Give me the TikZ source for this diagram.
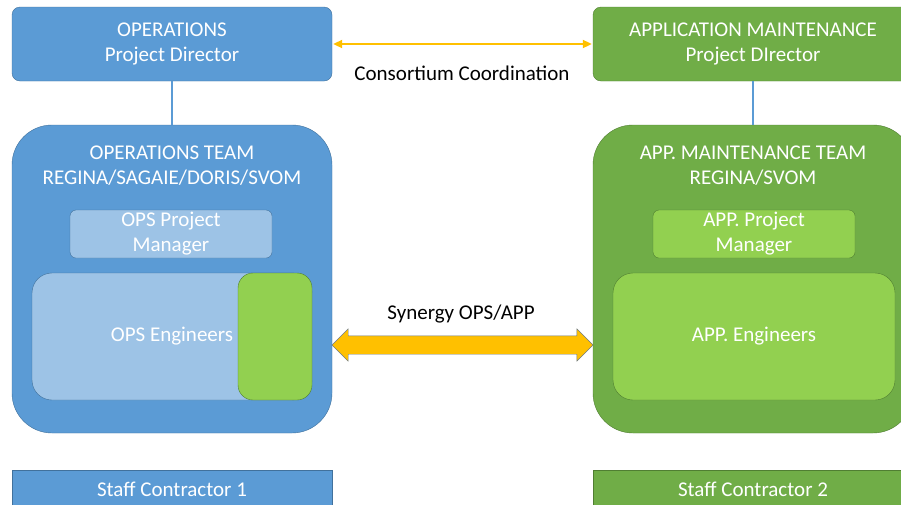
\documentclass[tikz,border=0pt]{standalone}
\usepackage{fontspec}
\setmainfont{Carlito}
\usetikzlibrary{shapes.arrows,arrows.meta,calc}
\definecolor{opsblue}{HTML}{5B9BD5}
\definecolor{opsline}{HTML}{41719C}
\definecolor{opslight}{HTML}{9DC3E6}
\definecolor{appgreen}{HTML}{70AD47}
\definecolor{appline}{HTML}{507E32}
\definecolor{applight}{HTML}{92D050}
\definecolor{synorange}{HTML}{FFC000}

\begin{document}
\begin{tikzpicture}[x=1pt,y=-1pt,
  box/.style={shape=rectangle,draw,thin,text=white,align=center,inner sep=0pt,
    font=\fontsize{21}{25}\selectfont},
  boxB/.style={box,fill=opsblue,draw=opsline},
  boxG/.style={box,fill=appgreen,draw=appline},
  boxBl/.style={box,fill=opslight,draw=opsline},
  boxGl/.style={box,fill=applight,draw=appline},
  lbl/.style={font=\fontsize{21}{25}\selectfont,text=black,inner sep=0pt},
  link/.style={draw=opsblue,line width=2pt},
  coord/.style={draw=synorange,line width=2pt,{Triangle[length=9pt,width=8pt]}-{Triangle[length=9pt,width=8pt]}}]
\def\bw{320};
\useasboundingbox (0,0) rectangle (901,504);
\clip (0,0) rectangle (901,504);

% directors
\node[boxB,rounded corners=8pt,minimum width=\bw,minimum height=74] (opsdir) at (172,44) {OPERATIONS\\Project Director};
\node[boxG,rounded corners=8pt,minimum width=\bw,minimum height=74] (appdir) at (753,44) {APPLICATION MAINTENANCE\\Project DIrector};
\draw[coord,shorten <=1pt,shorten >=1pt] (opsdir.east) -- (appdir.west);
\node[lbl] (conslbl) at (462,73) {Consortium Coordination};

% teams
\node[boxB,rounded corners=40pt,minimum width=\bw,minimum height=308] (opsteam) at (172,279) {};
\node[boxG,rounded corners=40pt,minimum width=\bw,minimum height=308] (appteam) at (753,279) {};
\draw[link] (opsdir.south) -- (opsteam.north);
\draw[link] (appdir.south) -- (appteam.north);
\node[box,draw=none] (opstitle) at (172,165.5) {OPERATIONS TEAM\\REGINA/SAGAIE/DORIS/SVOM};
\node[box,draw=none] (apptitle) at (753,165.5) {APP. MAINTENANCE TEAM\\REGINA/SVOM};

\node[boxBl,rounded corners=6pt,minimum width=202,minimum height=48] (opspm) at (171,234) {OPS Project\\Manager};
\node[boxGl,rounded corners=6pt,minimum width=202,minimum height=48] (apppm) at (754,234) {APP. Project\\Manager};

\node[boxBl,rounded corners=20pt,minimum width=280,minimum height=127] (opseng) at (172,336.5) {};
\node[boxGl,rounded corners=15pt,minimum width=74,minimum height=127] (opsext) at (275,336.5) {};
\node[box,draw=none] at (opseng.center) {OPS Engineers};
\node[boxGl,rounded corners=20pt,minimum width=282,minimum height=127] (appeng) at (754,336.5) {APP. Engineers};

% synergy
\node[double arrow,draw=gray!70!opsline,thin,fill=synorange,inner xsep=0pt,inner ysep=9pt,
  minimum height=261,double arrow head extend=7pt]
  (syn) at ($(opsteam.east)!0.5!(appteam.west)+(0,66)$) {};
\node[lbl] (synlbl) at (461,314) {Synergy OPS/APP};

% contractors
\node[boxB,minimum width=\bw,minimum height=38] (staff1) at (172,489) {Staff Contractor 1};
\node[boxG,minimum width=\bw,minimum height=38] (staff2) at (753,489) {Staff Contractor 2};
\end{tikzpicture}
\end{document}
